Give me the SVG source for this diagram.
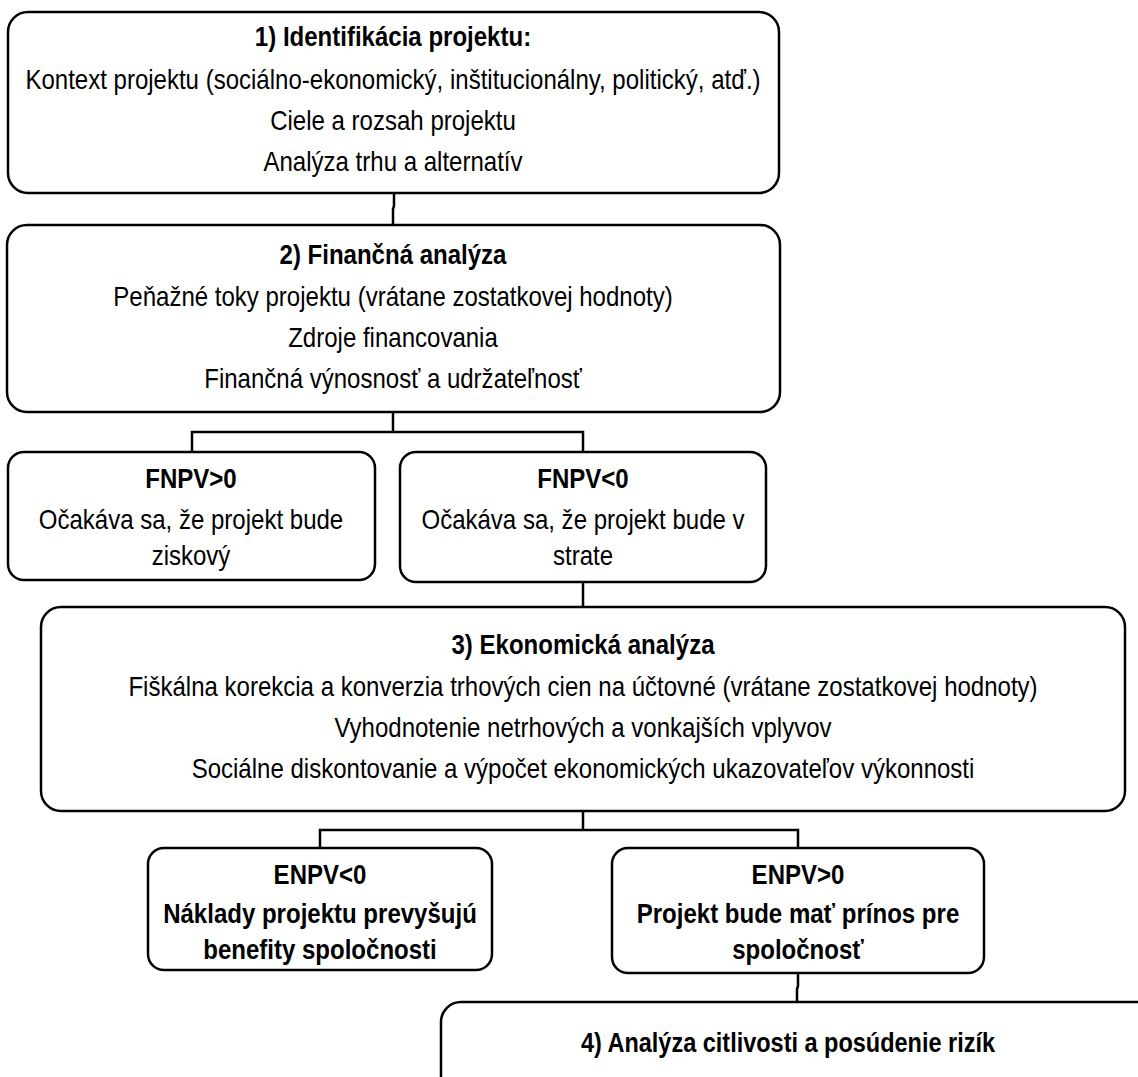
<svg xmlns="http://www.w3.org/2000/svg" width="1138" height="1077" viewBox="0 0 1138 1077">
<style>
.box{fill:#fff;stroke:#000;stroke-width:2.5}
.con{fill:none;stroke:#000;stroke-width:2.5}
text{font-family:"Liberation Sans Narrow","Liberation Sans",Arial,sans-serif;font-size:27px;fill:#000;text-anchor:middle}
.b{font-weight:bold}
</style>
<rect width="1138" height="1077" fill="#fff"/>
<g id="connectors">
<path class="con" d="M394,193 V206 L393,209 V225"/>
<path class="con" d="M393,412 V432 M192,452 V432 H583 V452"/>
<path class="con" d="M583,582 V607"/>
<path class="con" d="M583,811 V830 M320,848 V830 H798 V848"/>
<path class="con" d="M798,973 V986 L797,989 V1002"/>
</g>
<g id="n1">
<rect class="box" x="8" y="12" width="771" height="181" rx="20"/>
<text class="b" transform="translate(393 46) scale(0.89 1)">1) Identifikácia projektu:</text>
<text transform="translate(393 89) scale(0.89 1)">Kontext projektu (sociálno-ekonomický, inštitucionálny, politický, atď.)</text>
<text transform="translate(393 130) scale(0.89 1)">Ciele a rozsah projektu</text>
<text transform="translate(393 171) scale(0.89 1)">Analýza trhu a alternatív</text>
</g>
<g id="n2">
<rect class="box" x="7" y="225" width="773" height="187" rx="20"/>
<text class="b" transform="translate(393 264) scale(0.89 1)">2) Finančná analýza</text>
<text transform="translate(393 306) scale(0.89 1)">Peňažné toky projektu (vrátane zostatkovej hodnoty)</text>
<text transform="translate(393 347) scale(0.89 1)">Zdroje financovania</text>
<text transform="translate(393 388) scale(0.89 1)">Finančná výnosnosť a udržateľnosť</text>
</g>
<g id="n3">
<rect class="box" x="8" y="452" width="367" height="128" rx="16"/>
<text class="b" transform="translate(191 488) scale(0.89 1)">FNPV&gt;0</text>
<text transform="translate(191 529) scale(0.89 1)">Očakáva sa, že projekt bude</text>
<text transform="translate(191 565) scale(0.89 1)">ziskový</text>
</g>
<g id="n4">
<rect class="box" x="400" y="452" width="366" height="130" rx="16"/>
<text class="b" transform="translate(583 488) scale(0.89 1)">FNPV&lt;0</text>
<text transform="translate(583 529) scale(0.89 1)">Očakáva sa, že projekt bude v</text>
<text transform="translate(583 565) scale(0.89 1)">strate</text>
</g>
<g id="n5">
<rect class="box" x="41" y="607" width="1084" height="204" rx="20"/>
<text class="b" transform="translate(583 654) scale(0.89 1)">3) Ekonomická analýza</text>
<text transform="translate(583 696) scale(0.89 1)">Fiškálna korekcia a konverzia trhových cien na účtovné (vrátane zostatkovej hodnoty)</text>
<text transform="translate(583 737) scale(0.89 1)">Vyhodnotenie netrhových a vonkajších vplyvov</text>
<text transform="translate(583 778) scale(0.89 1)">Sociálne diskontovanie a výpočet ekonomických ukazovateľov výkonnosti</text>
</g>
<g id="n6">
<rect class="box" x="148" y="848" width="344" height="122" rx="16"/>
<text class="b" transform="translate(320 884) scale(0.89 1)">ENPV&lt;0</text>
<text class="b" transform="translate(320 923) scale(0.89 1)">Náklady projektu prevyšujú</text>
<text class="b" transform="translate(320 959) scale(0.89 1)">benefity spoločnosti</text>
</g>
<g id="n7">
<rect class="box" x="612" y="848" width="372" height="125" rx="16"/>
<text class="b" transform="translate(798 884) scale(0.89 1)">ENPV&gt;0</text>
<text class="b" transform="translate(798 923) scale(0.89 1)">Projekt bude mať prínos pre</text>
<text class="b" transform="translate(798 959) scale(0.89 1)">spoločnosť</text>
</g>
<g id="n8">
<rect class="box" x="441" y="1002" width="730" height="120" rx="20"/>
<text class="b" transform="translate(788 1052) scale(0.87 1)">4) Analýza citlivosti a posúdenie rizík</text>
</g>
</svg>
